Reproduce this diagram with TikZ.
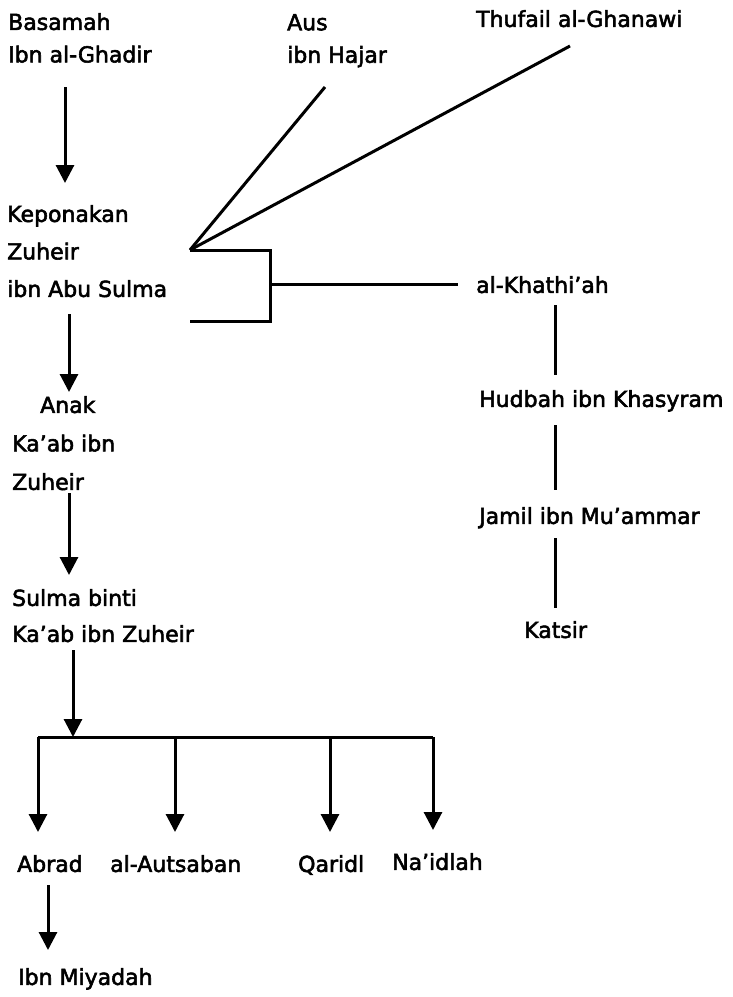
\documentclass[tikz,border=0pt]{standalone}
\usepackage{fontspec}
\setmainfont[FakeBold=2.5]{DejaVu Sans}
\usetikzlibrary{arrows.meta, positioning}

\begin{document}
\begin{tikzpicture}[
    x=1pt, y=-1pt, font=\fontsize{22}{37.5}\selectfont,
    person/.style={inner sep=0pt, anchor=north west, align=left},
    conn/.style={line width=3pt},
    arr/.style={conn, -{Triangle[length=18pt, width=18pt]}},
    >=Latex]
\useasboundingbox (0,0) rectangle (732,997);
% top row
\node[person, font=\fontsize{22}{32.5}\selectfont] (basamah) at (8,13) {Basamah\\Ibn al-Ghadir};
\node[person, font=\fontsize{22}{32.5}\selectfont] (aus) at (287,14) {Aus\\ibn Hajar};
\node[person] (thufail) at (476,10) {Thufail al-Ghanawi};
% left line
\node[person] (kepon) at (7,205) {Keponakan\\Zuheir\\ibn Abu Sulma};
\node[person, font=\fontsize{22}{38.5}\selectfont] (anak) at (12,396) {\hspace*{28pt}Anak\\Ka’ab ibn\\Zuheir};
\node[person, font=\fontsize{22}{36}\selectfont] (sulma) at (12,589) {Sulma binti\\Ka’ab ibn Zuheir};
\node[person] (abrad) at (17,855) {Abrad};
\node[person] (autsaban) at (110,855) {al-Autsaban};
\node[person] (qaridl) at (298,855) {Qaridl};
\node[person] (naidlah) at (392,853) {Na’idlah};
\node[person] (miyadah) at (18,968) {Ibn Miyadah};
% right line
\node[person] (khathiah) at (476,276) {al-Khathi’ah};
\node[person] (hudbah) at (479,390) {Hudbah ibn Khasyram};
\node[person] (jamil) at (479,507) {Jamil ibn Mu’ammar};
\node[person] (katsir) at (524,621) {Katsir};

\draw[arr] ([shift={(57,74)}]basamah.north west) -- ([shift={(58,-22)}]kepon.north west);
\coordinate (fan) at (190,250);
\draw[conn] (fan) -- ([shift={(38,73)}]aus.north west);
\draw[conn] (fan) -- ([shift={(94,36)}]thufail.north west);
\draw[conn] (fan) -- ++(80,0) coordinate (brk) -- ++(0,71) -- ++(-80,0);
\draw[conn] (brk |- khathiah.west) -- ([xshift=-18pt]khathiah.west);
\draw[conn] ([yshift=-29pt]khathiah.north -| katsir) -- ([yshift=15pt]hudbah.north -| katsir);
\draw[conn] ([yshift=-35pt]hudbah.north -| katsir) -- ([yshift=17pt]jamil.north -| katsir);
\draw[conn] ([yshift=-31pt]jamil.north -| katsir) -- ([yshift=13pt]katsir.north);

\draw[arr] ([shift={(62,109)}]kepon.north west) -- ([shift={(57,-4)}]anak.north west);
\draw[arr] ([shift={(57,97)}]anak.north west) -- ([shift={(57,-14)}]sulma.north west);
\coordinate (barL) at (38,737);
\coordinate (barR) at (433,737);
\coordinate (join) at (73,737);
\coordinate (dB) at (175,737);
\coordinate (dC) at (330,737);
\draw[arr] ([shift={(61,61)}]sulma.north west) -- (join);
\draw[conn] (barL) -- (barR);
\foreach \d/\nm in {barL/abrad, dB/autsaban, dC/qaridl, barR/naidlah}
  \draw[arr, shorten >=23pt] (\d) -- (\nm.north -| \d);
\draw[arr] ([shift={(31,30)}]abrad.north west) -- ([shift={(30,-18)}]miyadah.north west);
\end{tikzpicture}
\end{document}
